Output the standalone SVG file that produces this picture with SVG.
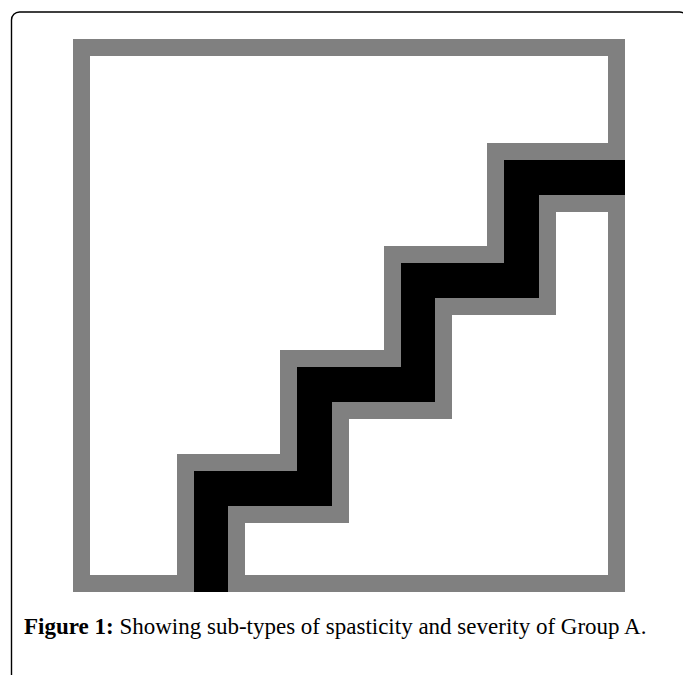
<svg xmlns="http://www.w3.org/2000/svg" width="683" height="675" viewBox="0 0 683 675">
  <style>
    .border { fill: none; stroke: #000; stroke-width: 1.4; }
    .frame { fill: none; stroke: #808080; stroke-width: 17; }
    .edge { fill: #808080; }
    .path { fill: #000; }
    .cap { font-family: "Liberation Serif", "DejaVu Serif", serif; font-size: 23px; fill: #000; }
  </style>
  <rect width="683" height="675" fill="#fff"/>
  <g id="border">
    <rect class="border" x="11.5" y="12" width="676" height="720" rx="8"/>
  </g>
  <g id="frame">
    <rect class="frame" x="81.5" y="47.5" width="535" height="536"/>
  </g>
  <g id="staircase">
    <polygon class="edge" points="177,592 177,454 280,454 280,350 384,350 384,246 487,246 487,143 625,143 625,212 556,212 556,315 452,315 452,419 349,419 349,523 245,523 245,592"/>
    <polygon class="path" points="194,592 194,471 297,471 297,367 401,367 401,263 504,263 504,160 625,160 625,195 539,195 539,298 435,298 435,402 332,402 332,506 228,506 228,592"/>
  </g>
  <g id="caption">
    <text class="cap" x="24" y="634"><tspan font-weight="bold">Figure 1:</tspan> Showing sub-types of spasticity and severity of Group A.</text>
  </g>
</svg>
